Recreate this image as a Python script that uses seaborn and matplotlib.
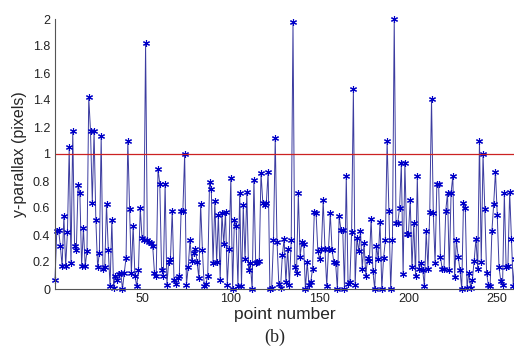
import numpy as np
import pandas as pd
import seaborn as sns
import matplotlib
matplotlib.use("Agg")
import matplotlib.pyplot as plt

# y-parallax per point
parallax = [
    0.07, 0.43, 0.44, 0.32, 0.17, 0.54, 0.17, 0.42, 1.05, 0.19,
    1.17, 0.32, 0.29, 0.77, 0.71, 0.17, 0.45, 0.17, 0.28, 1.42,
    1.17, 0.64, 1.17, 0.51, 0.16, 0.27, 1.13, 0.15, 0.16, 0.63,
    0.29, 0.02, 0.51, 0.01, 0.10, 0.07, 0.11, 0.12, 0.00, 0.12,
    0.23, 1.10, 0.59, 0.12, 0.47, 0.10, 0.02, 0.14, 0.60, 0.38,
    0.36, 1.82, 0.36, 0.35, 0.34, 0.32, 0.12, 0.10, 0.89, 0.78,
    0.14, 0.10, 0.78, 0.03, 0.20, 0.22, 0.58, 0.07, 0.04, 0.08,
    0.10, 0.58, 0.58, 1.00, 0.03, 0.16, 0.36, 0.21, 0.27, 0.30,
    0.20, 0.08, 0.63, 0.29, 0.02, 0.04, 0.10, 0.79, 0.74, 0.19,
    0.65, 0.20, 0.55, 0.07, 0.56, 0.33, 0.57, 0.03, 0.30, 0.82,
    0.00, 0.51, 0.47, 0.02, 0.71, 0.02, 0.62, 0.22, 0.72, 0.14,
    0.19, 0.00, 0.81, 0.19, 0.20, 0.21, 0.86, 0.64, 0.62, 0.64,
    0.87, 0.00, 0.01, 0.36, 1.12, 0.35, 0.04, 0.01, 0.25, 0.37,
    0.05, 0.30, 0.03, 0.36, 1.98, 0.16, 0.12, 0.71, 0.24, 0.35,
    0.33, 0.00, 0.20, 0.03, 0.05, 0.15, 0.57, 0.56, 0.28, 0.22,
    0.30, 0.66, 0.30, 0.02, 0.30, 0.56, 0.29, 0.20, 0.19, 0.00,
    0.54, 0.44, 0.44, 0.00, 0.84, 0.04, 0.05, 0.42, 1.48, 0.03,
    0.38, 0.28, 0.43, 0.15, 0.34, 0.10, 0.23, 0.21, 0.52, 0.13,
    0.00, 0.32, 0.22, 0.50, 0.00, 0.23, 0.36, 1.10, 0.58, 0.00,
    0.36, 2.00, 0.49, 0.49, 0.60, 0.93, 0.11, 0.93, 0.41, 0.41,
    0.66, 0.16, 0.49, 0.10, 0.84, 0.15, 0.19, 0.14, 0.02, 0.43,
    0.15, 0.57, 1.41, 0.56, 0.19, 0.78, 0.78, 0.24, 0.15, 0.15,
    0.58, 0.71, 0.14, 0.71, 0.84, 0.09, 0.36, 0.24, 0.14, 0.00,
    0.64, 0.60, 0.01, 0.12, 0.01, 0.07, 0.21, 0.37, 0.15, 1.10,
    0.20, 1.00, 0.59, 0.12, 0.03, 0.02, 0.43, 0.63, 0.87, 0.55,
    0.16, 0.06, 0.03, 0.71, 0.16, 0.17, 0.72, 0.37, 0.02, 0.22,
]
point_number = list(range(1, len(parallax) + 1))
threshold = 1.0
x_ticks = [50, 100, 150, 200, 250]
y_ticks = [0, 0.2, 0.4, 0.6, 0.8, 1, 1.2, 1.4, 1.6, 1.8, 2]
y_tick_labels = ["0", "0.2", "0.4", "0.6", "0.8", "1", "1.2", "1.4", "1.6", "1.8", "2"]

df = pd.DataFrame({"point": point_number, "parallax": parallax})

sns.set_style("white")
plt.rcParams["font.family"] = ["Liberation Sans", "DejaVu Sans"]

fig = plt.figure(figsize=(5.14, 3.51), dpi=100)
ax = fig.add_axes([55 / 514, 62 / 351, 460 / 514, 270 / 351])

sns.lineplot(data=df, x="point", y="parallax", ax=ax, color="#3c3ca0",
             linewidth=0.7, marker=(6, 2, 0), markersize=5,
             markeredgecolor="#0000c8", markeredgewidth=0.8, estimator=None,
             clip_on=False)
ax.axhline(threshold, color="#cc2222", linewidth=0.9)

ax.set_xlim(1, 260)
ax.set_ylim(0, 2)
ax.set_xticks(x_ticks)
ax.set_yticks(y_ticks)
ax.set_yticklabels(y_tick_labels)
ax.tick_params(direction="in", length=3, labelsize=9, colors="#333333",
               labelcolor="#222222")
ax.tick_params(axis="x", pad=3)
for s in ["top", "right"]:
    ax.spines[s].set_visible(False)
for s in ["left", "bottom"]:
    ax.spines[s].set_color("#555555")
    ax.spines[s].set_linewidth(0.8)

ax.set_xlabel("point number", fontsize=12.5, labelpad=1)
ax.set_ylabel("y-parallax (pixels)", fontsize=11.5, labelpad=4)
fig.text(275 / 514, 1 - 337 / 351, "(b)", ha="center", va="center",
         fontsize=13, family=["Liberation Serif", "DejaVu Serif"])

fig.savefig("out.png", dpi=100)
